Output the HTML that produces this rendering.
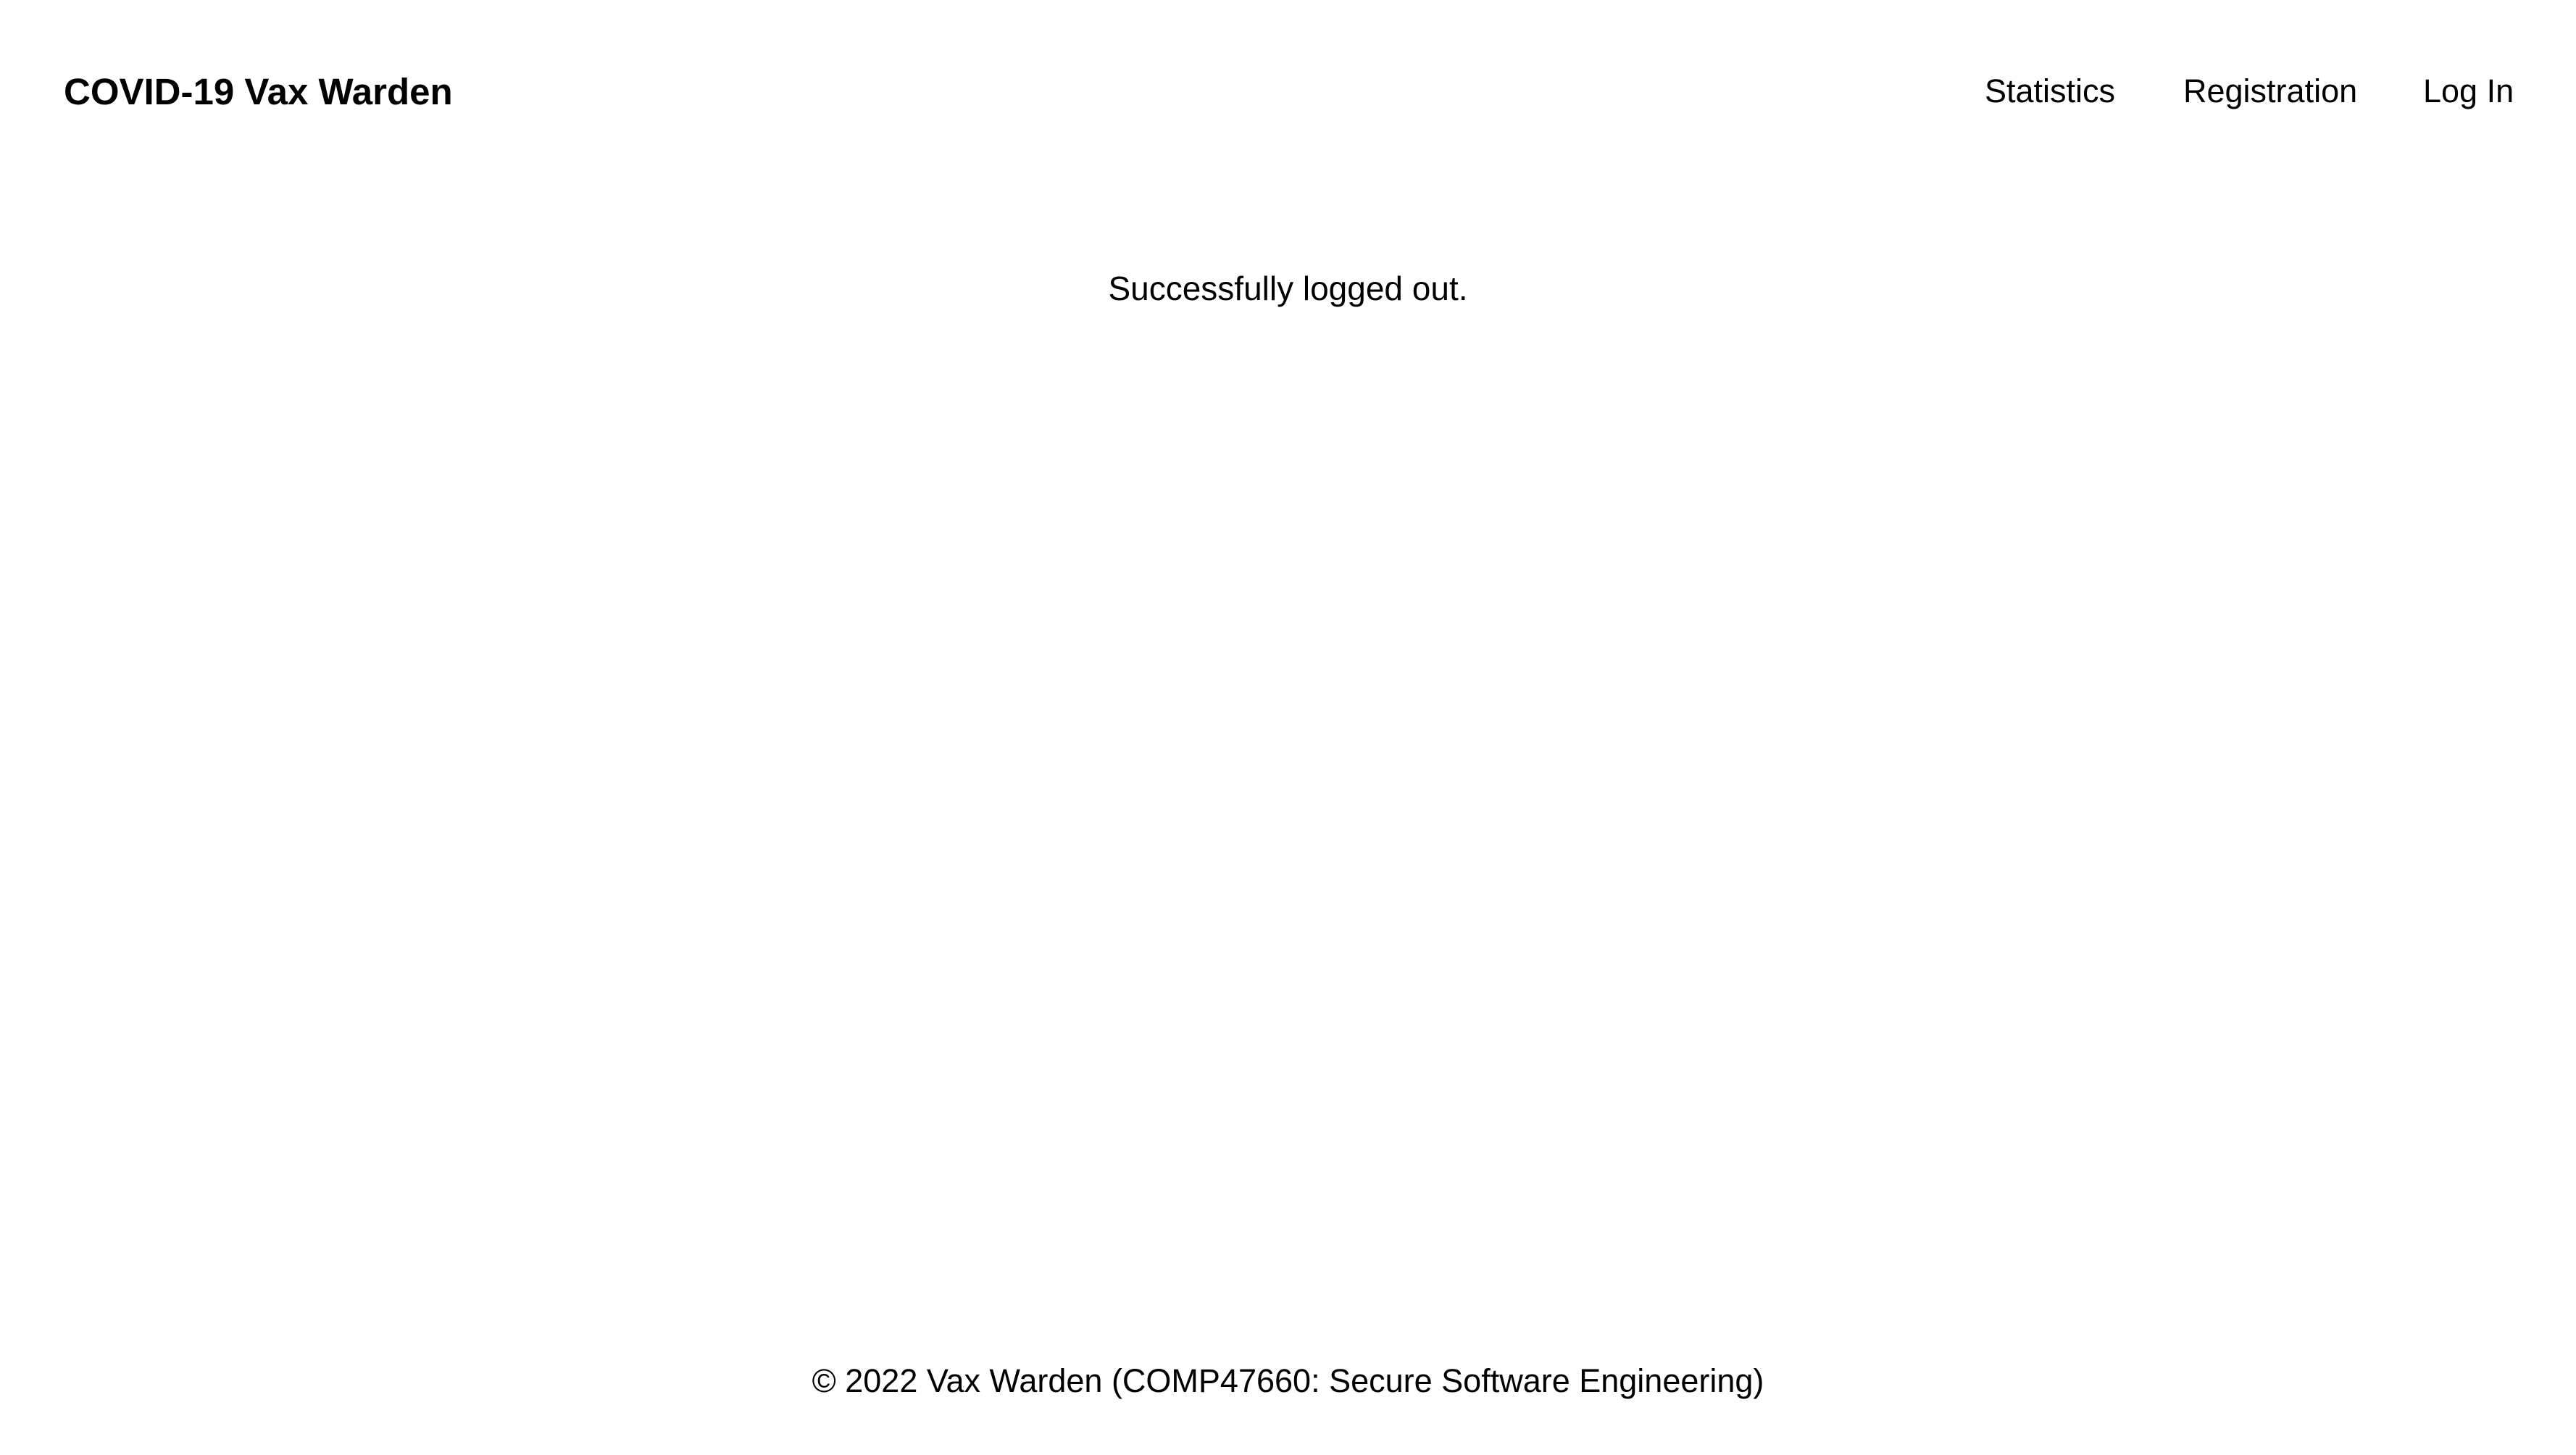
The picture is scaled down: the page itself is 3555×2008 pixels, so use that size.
<!DOCTYPE html>
<html>
<head>
<meta charset="utf-8">
<style>
  html,body{margin:0;padding:0;background:#fff;}
  body{width:3555px;height:2008px;position:relative;overflow:hidden;font-family:"Liberation Sans",Arial,sans-serif;color:#000;}
  .abs{position:absolute;white-space:nowrap;line-height:1;}
  #brand{left:88px;top:101px;font-size:51px;font-weight:bold;}
  .nav{top:103px;font-size:45px;color:#000;text-decoration:none;}
  #msg{left:0;width:3555px;text-align:center;top:375px;font-size:46px;}
  #foot{left:0;width:3555px;text-align:center;top:1883px;font-size:45px;}
</style>
</head>
<body>
  <div id="brand" class="abs">COVID-19 Vax Warden</div>
  <a class="abs nav" style="left:2739px" href="#">Statistics</a>
  <a class="abs nav" style="left:3013px" href="#">Registration</a>
  <a class="abs nav" style="left:3344px" href="#">Log In</a>
  <div id="msg" class="abs">Successfully logged out.</div>
  <div id="foot" class="abs">© 2022 Vax Warden (COMP47660: Secure Software Engineering)</div>
</body>
</html>
